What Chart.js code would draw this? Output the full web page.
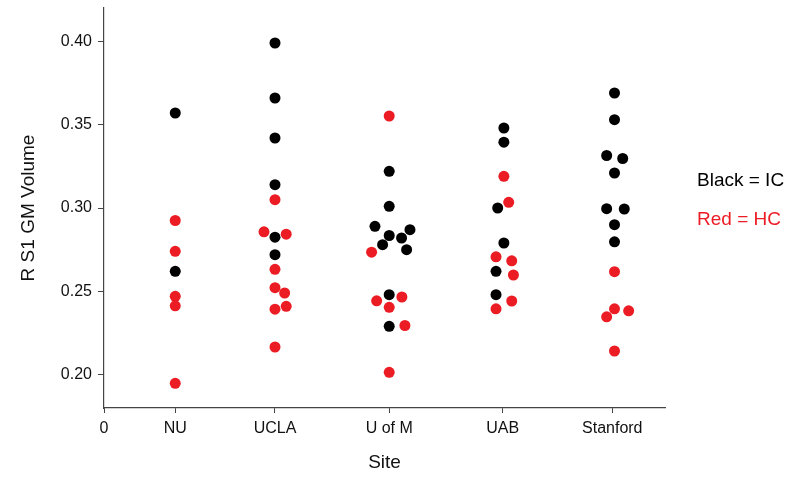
<!DOCTYPE html>
<html>
<head>
<meta charset="utf-8">
<script src="https://cdn.jsdelivr.net/npm/chart.js@4"></script>
<style>
    html, body { margin: 0; padding: 0; background: #fff; }
    #wrap { width: 788px; height: 477px; }
</style>
</head>
<body>
<div id="wrap"><canvas id="siteChart" width="788" height="477"></canvas></div>
<script>
// sites and where they sit on the x axis
var sites = ['NU', 'UCLA', 'U of M', 'UAB', 'Stanford'];
var sitePos = [0.635, 1.524, 2.542, 3.554, 4.53];
var yTicks = [0.20, 0.25, 0.30, 0.35, 0.40];

// IC (black) - site index, horizontal jitter, volume
var icSite = [0, 0, 1, 1, 1, 1, 1, 1, 2, 2, 2, 2, 2, 2, 2, 2, 2, 2, 3, 3, 3, 3, 3, 3, 4, 4, 4, 4, 4, 4, 4, 4, 4];
var icJitter = [0, 0, 0, 0, 0, 0, 0, 0, 0, 0, -0.127, 0.185, 0, 0.11, -0.059, 0.155, 0, 0, 0.01, 0.01, -0.045, 0.01, -0.06, -0.06,
    0.02, 0.02, -0.05, 0.093, 0.02, -0.05, 0.107, 0.02, 0.02];
var icValue = [0.357, 0.262, 0.399, 0.366, 0.342, 0.314, 0.2825, 0.272, 0.322, 0.301, 0.289, 0.287, 0.2835, 0.282, 0.278, 0.275, 0.248, 0.229,
    0.348, 0.3395, 0.300, 0.279, 0.262, 0.248, 0.369, 0.353, 0.3315, 0.3297, 0.321, 0.2996, 0.2994, 0.290, 0.2797];

// HC (red)
var hcSite = [0, 0, 0, 0, 0, 1, 1, 1, 1, 1, 1, 1, 1, 1, 2, 2, 2, 2, 2, 2, 2, 3, 3, 3, 3, 3, 3, 3, 4, 4, 4, 4, 4];
var hcJitter = [0, 0, 0, 0, 0, 0, -0.098, 0.10, 0, 0, 0.086, 0.10, 0, 0, 0, -0.157, 0.113, -0.112, 0, 0.14, 0,
    0.01, 0.053, -0.06, 0.08, 0.095, 0.08, -0.06, 0.02, 0.02, 0.146, -0.05, 0.02];
var hcValue = [0.2925, 0.274, 0.247, 0.2413, 0.1948, 0.305, 0.2857, 0.2843, 0.2632, 0.2522, 0.249, 0.241, 0.2393, 0.2166,
    0.3552, 0.2735, 0.2466, 0.2443, 0.2404, 0.2295, 0.2014, 0.319, 0.3034, 0.2707, 0.2683, 0.2598, 0.2442, 0.2395,
    0.2618, 0.2395, 0.2383, 0.2347, 0.2142];

function buildPoints(siteIdx, jitter, values) {
    var pts = [];
    for (var i = 0; i < values.length; i++) {
        pts.push({ x: sitePos[siteIdx[i]] + jitter[i], y: values[i] });
    }
    return pts;
}

var axisColor = '#444';
var fontFamily = '"Liberation Sans", Arial, sans-serif';

// the "Black = IC" / "Red = HC" key on the right
var keyText = {
    id: 'keyText',
    afterDraw: function (chart) {
        var ctx = chart.ctx;
        ctx.save();
        ctx.font = '19px ' + fontFamily;
        ctx.textBaseline = 'middle';
        ctx.textAlign = 'left';
        ctx.fillStyle = '#000';
        ctx.fillText('Black = IC', 697, 181);
        ctx.fillStyle = '#ec1c24';
        ctx.fillText('Red = HC', 697, 220);
        ctx.restore();
    }
};

var ctx = document.getElementById('siteChart').getContext('2d');
var siteChart = new Chart(ctx, {
    type: 'scatter',
    data: {
        datasets: [{
            label: 'IC',
            data: buildPoints(icSite, icJitter, icValue),
            backgroundColor: '#000',
            borderColor: '#000',
            borderWidth: 0,
            pointRadius: 5.5
        }, {
            label: 'HC',
            data: buildPoints(hcSite, hcJitter, hcValue),
            backgroundColor: '#ec1c24',
            borderColor: '#ec1c24',
            borderWidth: 0,
            pointRadius: 5.5
        }]
    },
    options: {
        responsive: false,
        animation: false,
        layout: {
            padding: { left: 0, right: 123, top: 8, bottom: 0 }
        },
        plugins: {
            legend: { display: false },
            tooltip: { enabled: false }
        },
        scales: {
            x: {
                type: 'linear',
                min: 0,
                max: 5,
                afterBuildTicks: function (scale) {
                    scale.ticks = [{ value: 0 }].concat(sitePos.map(function (p) { return { value: p }; }));
                },
                afterFit: function (scale) {
                    scale.height = 69;
                    scale.paddingLeft = 0;
                    scale.paddingRight = 0;
                },
                grid: { display: true, drawOnChartArea: false, drawTicks: true, tickLength: 5, color: axisColor },
                border: { display: true, color: axisColor, width: 1.2 },
                ticks: {
                    color: '#111',
                    padding: 6,
                    maxRotation: 0,
                    autoSkip: false,
                    font: { family: fontFamily, size: 16 },
                    callback: function (value) {
                        var i = sitePos.indexOf(value);
                        return i >= 0 ? sites[i] : '0';
                    }
                },
                title: {
                    display: true,
                    text: 'Site',
                    color: '#111',
                    font: { family: fontFamily, size: 19 },
                    padding: { top: 0, bottom: 3 }
                }
            },
            y: {
                min: 0.18,
                max: 0.42,
                afterBuildTicks: function (scale) {
                    scale.ticks = yTicks.map(function (v) { return { value: v }; });
                },
                afterFit: function (scale) {
                    scale.width = 104;
                    scale.paddingTop = 0;
                    scale.paddingBottom = 0;
                },
                grid: { display: true, drawOnChartArea: false, drawTicks: true, tickLength: 6, color: axisColor },
                border: { display: true, color: axisColor, width: 1.2 },
                ticks: {
                    color: '#111',
                    padding: 6,
                    font: { family: fontFamily, size: 16 },
                    callback: function (value) {
                        return Number(value).toFixed(2);
                    }
                },
                title: {
                    display: true,
                    text: 'R S1 GM Volume',
                    color: '#111',
                    font: { family: fontFamily, size: 19 },
                    padding: { top: 17, bottom: 0 }
                }
            }
        }
    },
    plugins: [keyText]
});
</script>
</body>
</html>
